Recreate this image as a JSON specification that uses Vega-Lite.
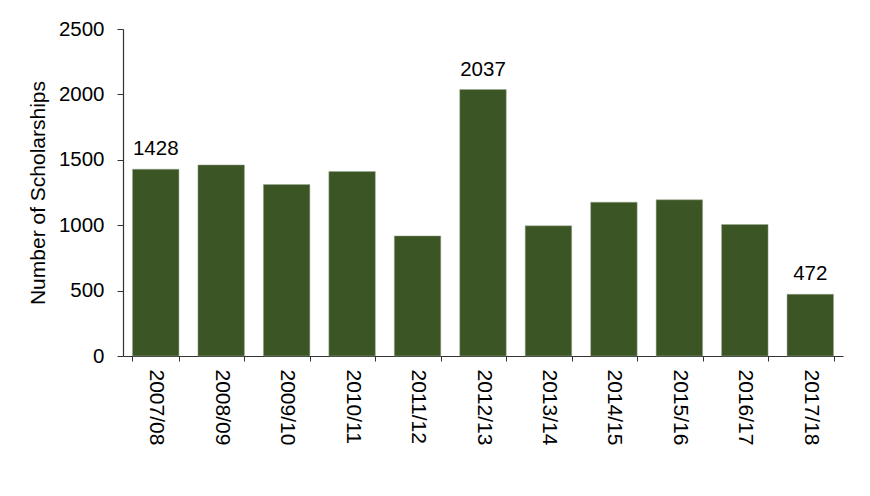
{
  "$schema": "https://vega.github.io/schema/vega-lite/v6.json",
  "autosize": {"type": "none"},
  "padding": {"left": 123, "top": 29, "right": 27, "bottom": 140},
  "width": 720,
  "height": 327,
  "background": "white",
  "config": {
    "view": {"stroke": null},
    "font": "Liberation Sans",
    "axis": {"labelFont": "Liberation Sans", "titleFont": "Liberation Sans", "labelColor": "black", "titleColor": "black", "domainColor": "#333333", "tickColor": "#333333", "grid": false}
  },
  "data": {
    "values": [
      {"year": "2007/08", "count": 1428},
      {"year": "2008/09", "count": 1461},
      {"year": "2009/10", "count": 1311},
      {"year": "2010/11", "count": 1410},
      {"year": "2011/12", "count": 918},
      {"year": "2012/13", "count": 2037},
      {"year": "2013/14", "count": 995},
      {"year": "2014/15", "count": 1176},
      {"year": "2015/16", "count": 1194},
      {"year": "2016/17", "count": 1005},
      {"year": "2017/18", "count": 472}
    ]
  },
  "encoding": {
    "x": {
      "field": "year", "type": "nominal", "sort": null,
      "scale": {"paddingInner": 0.29, "paddingOuter": 0.145},
      "axis": {"title": null, "labelAngle": 90, "labelFontSize": 21, "labelPadding": 8, "tickSize": 5, "tickBand": "extent", "domainWidth": 1.2, "labelAlign": "left", "labelBaseline": "middle"}
    },
    "y": {
      "field": "count", "type": "quantitative",
      "scale": {"domain": [0, 2500], "nice": false},
      "axis": {"title": "Number of Scholarships", "format": "d", "values": [0, 500, 1000, 1500, 2000, 2500], "labelFontSize": 20.5, "titleFontSize": 21, "titleFontWeight": "normal", "tickSize": 6, "labelPadding": 13, "titlePadding": 10, "domainWidth": 1.2}
    }
  },
  "layer": [
    {"mark": {"type": "bar", "color": "#3b5524", "stroke": "#9aa890", "strokeWidth": 0.5}},
    {
      "transform": [{"filter": {"field": "year", "oneOf": ["2007/08", "2012/13", "2017/18"]}}],
      "mark": {"type": "text", "fontSize": 20.5, "baseline": "alphabetic", "dy": -14, "color": "black"},
      "encoding": {"text": {"field": "count", "type": "quantitative", "format": "d"}}
    }
  ]
}
